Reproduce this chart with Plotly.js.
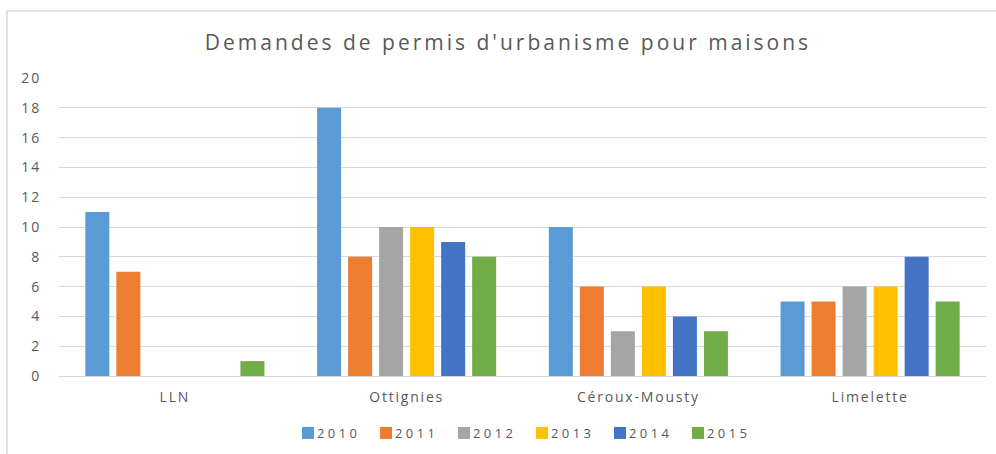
<!DOCTYPE html>
<html>
<head>
<meta charset="utf-8">
<script src="https://cdn.plot.ly/plotly-3.0.1.min.js"></script>
<style>
html,body{margin:0;padding:0;background:#fff;}
#chart{width:996px;height:454px;}
.gtitle{letter-spacing:3px;}
#chart .xtick text{letter-spacing:1.8px;}
#chart .ytick text{letter-spacing:2px;}
.legendtext{letter-spacing:3.4px;}
</style>
</head>
<body>
<div id="chart"></div>
<script>
const categories = ["LLN", "Ottignies", "Céroux-Mousty", "Limelette"];
const years = ["2010", "2011", "2012", "2013", "2014", "2015"];
const v2010 = [11, 18, 10, 5];
const v2011 = [7, 8, 6, 5];
const v2012 = [0, 10, 3, 6];
const v2013 = [0, 10, 6, 6];
const v2014 = [0, 9, 4, 8];
const v2015 = [1, 8, 3, 5];
const colors = ["#5b9bd5", "#ed7d31", "#a5a5a5", "#ffc000", "#4472c4", "#70ad47"];
const series = [v2010, v2011, v2012, v2013, v2014, v2015];

const font = "'Open Sans', 'DejaVu Sans', sans-serif";
const traces = series.map((vals, i) => ({
  type: "bar",
  name: years[i],
  x: categories,
  y: vals,
  marker: {color: colors[i]},
  hoverinfo: "y"
}));

const L = 59, R = 10, T = 78, B = 78, W = 996, H = 454;
const pw = W - L - R, ph = H - T - B;
const px = p => (p - L) / pw;
const py = p => (H - B - p) / ph;

const layout = {
  width: W, height: H,
  margin: {l: L, r: R, t: T, b: B, pad: 0, autoexpand: false},
  paper_bgcolor: "#ffffff",
  plot_bgcolor: "#ffffff",
  font: {family: font, color: "#595959", size: 14},
  title: {
    text: "Demandes de permis d'urbanisme pour maisons",
    font: {family: font, size: 21, color: "#595959"},
    x: 508 / W, xanchor: "center", xref: "container",
    y: 1 - 43 / H, yanchor: "middle", yref: "container"
  },
  barmode: "group",
  bargap: 0.197,
  bargroupgap: 0.226,
  xaxis: {
    type: "category",
    showgrid: false,
    showline: true,
    linecolor: "#d9d9d9",
    linewidth: 1,
    ticks: "outside",
    ticklen: 8,
    tickcolor: "rgba(0,0,0,0)",
    tickfont: {size: 14, color: "#595959"},
    zeroline: false,
    automargin: false
  },
  yaxis: {
    range: [0, 20],
    dtick: 2,
    showgrid: true,
    gridcolor: "#d9d9d9",
    gridwidth: 1,
    zeroline: false,
    showline: false,
    ticks: "outside",
    ticklen: 14,
    tickcolor: "rgba(0,0,0,0)",
    tickfont: {size: 14, color: "#595959"},
    automargin: false
  },
  showlegend: true,
  legend: {
    orientation: "h",
    xref: "container", yref: "container",
    x: 522 / W, xanchor: "center",
    y: 1 - 433 / H, yanchor: "middle",
    font: {size: 13, color: "#595959"},
    traceorder: "normal",
    itemwidth: 30,
    entrywidth: 33,
    entrywidthmode: "pixels"
  },
  shapes: [
    {type: "line", xref: "paper", yref: "paper", x0: px(7), x1: px(7), y0: py(H + 5), y1: py(11),
     line: {color: "#d9d9d9", width: 1.5}},
    {type: "line", xref: "paper", yref: "paper", x0: px(7), x1: px(W + 5), y0: py(11), y1: py(11),
     line: {color: "#d9d9d9", width: 1.5}}
  ]
};

Plotly.newPlot("chart", traces, layout, {displayModeBar: false, staticPlot: true}).then(gd => {
  // pull legend labels closer to their swatches, as in the reference
  gd.querySelectorAll(".legendtext").forEach(t => {
    const x = parseFloat(t.getAttribute("x")) || 0;
    t.setAttribute("x", x - 11);
  });
});
</script>
</body>
</html>
